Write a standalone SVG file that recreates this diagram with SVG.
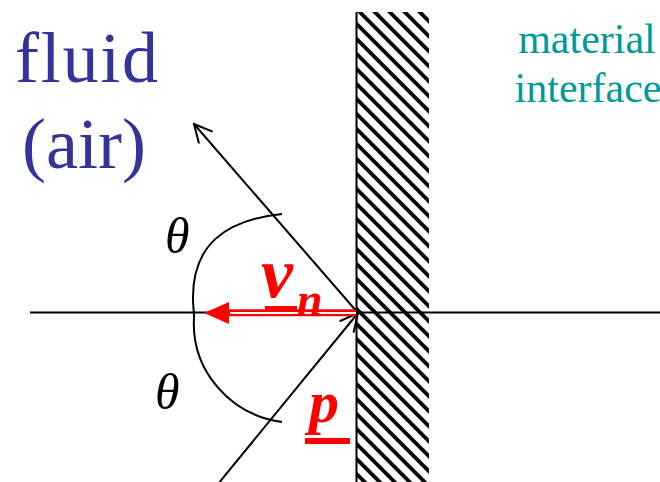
<svg xmlns="http://www.w3.org/2000/svg" width="660" height="482" viewBox="0 0 660 482">
<style>
.ln{fill:none;stroke:#000;stroke-width:2;stroke-linecap:butt}
.serif{font-family:"Liberation Serif","Times New Roman",serif}
.fluid{fill:#333399;font-size:72px}
.iface{fill:#009999;font-size:42px;text-anchor:middle}
.theta{font-style:italic;font-size:50px;fill:#000}
.vec{fill:#ff0000;font-style:italic;font-weight:bold}
</style>
<defs>
<pattern id="hatch" patternUnits="userSpaceOnUse" width="10.607" height="20" patternTransform="rotate(-45)">
<rect x="0" y="0" width="3.8" height="20" fill="#000"/>
</pattern>
<marker id="open" markerUnits="userSpaceOnUse" viewBox="0 0 22 20" refX="20" refY="10" markerWidth="22" markerHeight="20" orient="auto">
<path d="M2,1 L20,10 L2,19" fill="none" stroke="#000" stroke-width="2"/>
</marker>
</defs>
<rect width="660" height="482" fill="#fff"/>
<g id="wall">
<rect x="357" y="12" width="72" height="472" fill="#fff"/>
<rect x="357" y="12" width="72" height="472" fill="url(#hatch)"/>
<line x1="356.5" y1="12" x2="356.5" y2="482" stroke="#000" stroke-width="2"/>
</g>
<g id="connectors">
<line class="ln" x1="30" y1="312.5" x2="660" y2="312.5" stroke-width="1.6"/>
<line class="ln" x1="358" y1="313" x2="194" y2="124" marker-end="url(#open)"/>
<line class="ln" x1="209" y1="495" x2="358" y2="313" marker-end="url(#open)"/>
<path class="ln" d="M282,214 C225,220 192,245 193,300 C193,306 194,310 194,318 C191,370 230,415 282,422" stroke-width="1.6"/>
<g id="vn-arrow">
<line x1="228" y1="312.8" x2="356" y2="312.8" stroke="#ff0000" stroke-width="7"/>
<line x1="230" y1="313" x2="356" y2="313" stroke="#fff" stroke-width="1.8"/>
<polygon points="204,313 229,302 229,324" fill="#ff0000"/>
</g>
</g>
<g id="labels" class="serif">
<text class="fluid" x="15" y="82" textLength="143">fluid</text>
<text class="fluid" x="22" y="168">(air)</text>
<text class="iface" x="587" y="53">material</text>
<text class="iface" x="588" y="102">interface</text>
<text class="theta" x="165" y="253">θ</text>
<text class="theta" x="155" y="409">θ</text>
<g id="vn-label">
<text class="vec" x="261" y="297" font-size="72">v</text>
<rect x="265" y="306" width="32" height="5" fill="#ff0000"/>
<text class="vec" x="297" y="315" font-size="46">n</text>
</g>
<g id="p-label">
<text class="vec" x="309" y="422" font-size="60">p</text>
<rect x="305" y="438" width="45" height="6" fill="#ff0000"/>
</g>
</g>
</svg>
